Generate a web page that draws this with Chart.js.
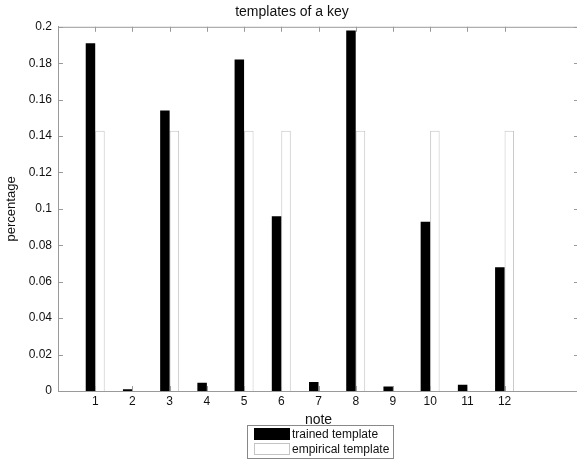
<!DOCTYPE html>
<html>
<head>
<meta charset="utf-8">
<script src="https://cdn.jsdelivr.net/npm/chart.js@4/dist/chart.umd.min.js"></script>
<style>
  html, body { margin: 0; padding: 0; background: #fff; overflow: hidden; }
  .wrap { width: 577px; height: 460px; overflow: hidden; }
  .box { width: 584px; height: 460px; }
</style>
</head>
<body>
<div class="wrap"><div class="box"><canvas id="chart"></canvas></div></div>
<script>
// note index on the x axis (0..14, only 1..12 carry data)
const notes = ["1", "2", "3", "4", "5", "6", "7", "8", "9", "10", "11", "12"];
const trained = [0.191, 0.001, 0.154, 0.0045, 0.182, 0.096, 0.005, 0.198, 0.0025, 0.093, 0.0035, 0.068];
const empirical = [0.1429, 0, 0.1429, 0, 0.1429, 0.1429, 0, 0.1429, 0, 0.1429, 0, 0.1429];
const yTicks = [0, 0.02, 0.04, 0.06, 0.08, 0.1, 0.12, 0.14, 0.16, 0.18, 0.2];

// pad one empty slot on the left and two on the right, like the original axis 0..14
const labels = ["0", ...notes, "13", "14"];
const pad = arr => [null, ...arr, null, null];

const FONT = "'Liberation Sans', Arial, Helvetica, sans-serif";
const AXIS = "#9a9a9a";

// matlab style box + inward ticks
const boxPlugin = {
  id: "box",
  afterDatasetsDraw(chart) {
    const { ctx, chartArea: a, scales } = chart;
    ctx.save();
    ctx.strokeStyle = AXIS;
    ctx.lineWidth = 1;
    ctx.strokeRect(a.left + 0.5, a.top + 0.5, a.right - a.left, a.bottom - a.top);
    ctx.beginPath();
    notes.forEach(n => {
      const x = Math.round(scales.x.getPixelForValue(labels.indexOf(n))) + 0.5;
      ctx.moveTo(x, a.bottom); ctx.lineTo(x, a.bottom - 5);
      ctx.moveTo(x, a.top); ctx.lineTo(x, a.top + 5);
    });
    yTicks.forEach(v => {
      const y = Math.round(scales.y.getPixelForValue(v)) + 0.5;
      ctx.moveTo(a.left, y); ctx.lineTo(a.left + 5, y);
      ctx.moveTo(a.right, y); ctx.lineTo(a.right - 5, y);
    });
    ctx.stroke();
    ctx.restore();
  },
  afterDraw(chart) {
    // legend box under the axis title
    const { ctx } = chart;
    const ds = chart.data.datasets;
    const left = 247, top = 425, w = 146, h = 33;
    ctx.save();
    ctx.fillStyle = "#fff";
    ctx.fillRect(left, top, w, h);
    ctx.strokeStyle = "#888";
    ctx.lineWidth = 1;
    ctx.strokeRect(left + 0.5, top + 0.5, w, h);
    ctx.font = "12px " + FONT;
    ctx.textBaseline = "middle";
    ds.forEach((d, i) => {
      const y = top + 3 + i * 15;
      ctx.fillStyle = d.backgroundColor;
      ctx.fillRect(left + 7, y, 36, 12);
      ctx.strokeStyle = d.borderColor;
      ctx.strokeRect(left + 7.5, y + 0.5, 35, 11);
      ctx.fillStyle = "#111";
      ctx.fillText(d.label, left + 45, y + 6.5);
    });
    ctx.restore();
  }
};

const ctx = document.getElementById("chart").getContext("2d");
new Chart(ctx, {
  type: "bar",
  data: {
    labels: labels,
    datasets: [
      {
        label: "trained template",
        data: pad(trained),
        backgroundColor: "#000",
        borderColor: "#000",
        borderWidth: 0
      },
      {
        label: "empirical template",
        data: pad(empirical),
        backgroundColor: "#fff",
        borderColor: "#c4c4c4",
        borderWidth: 1
      }
    ]
  },
  options: {
    responsive: true,
    maintainAspectRatio: false,
    animation: false,
    categoryPercentage: 0.51,
    barPercentage: 1.0,
    layout: { padding: { left: 0, right: 0, top: 0, bottom: 33 } },
    plugins: {
      legend: { display: false },
      tooltip: { enabled: false },
      title: {
        display: true,
        text: "templates of a key",
        color: "#111",
        font: { family: FONT, size: 14, weight: "normal" },
        padding: { top: 4, bottom: 6 }
      }
    },
    scales: {
      x: {
        offset: false,
        min: 0,
        grid: { display: false, drawTicks: false },
        border: { color: AXIS },
        ticks: {
          autoSkip: false,
          maxRotation: 0,
          color: "#111",
          padding: 5,
          font: { family: FONT, size: 12, lineHeight: 1 },
          callback: (v, i) => (notes.includes(labels[i]) ? labels[i] : "")
        },
        title: {
          display: true,
          text: "note",
          color: "#111",
          font: { family: FONT, size: 14, lineHeight: 1 },
          padding: { top: 0, bottom: 0 }
        }
      },
      y: {
        min: 0,
        max: 0.2,
        grid: { display: false, drawTicks: false },
        border: { color: AXIS },
        afterBuildTicks: axis => { axis.ticks = yTicks.map(v => ({ value: v })); },
        afterFit: axis => { axis.width = 58; },
        ticks: {
          color: "#111",
          padding: 6,
          font: { family: FONT, size: 12 },
          callback: v => String(Number(v.toFixed(2)))
        },
        title: {
          display: true,
          text: "percentage",
          color: "#111",
          font: { family: FONT, size: 13 },
          padding: { top: 4, bottom: 4 }
        }
      }
    }
  },
  plugins: [boxPlugin]
});
</script>
</body>
</html>
